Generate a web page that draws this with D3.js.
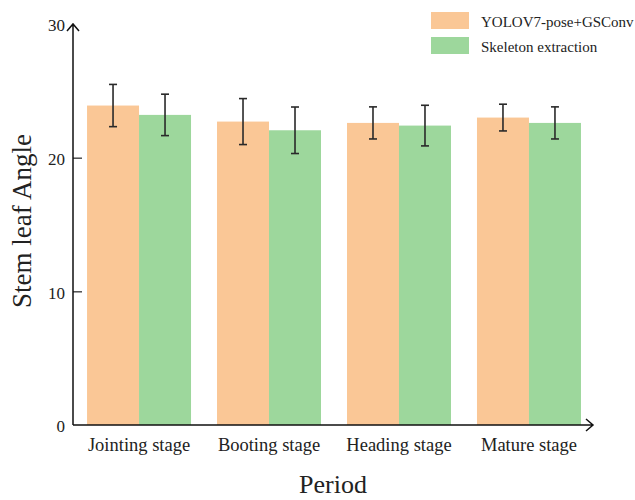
<!DOCTYPE html>
<html>
<head>
<meta charset="utf-8">
<script src="https://cdn.jsdelivr.net/npm/d3@7"></script>
<style>
body{margin:0;background:#fff}
text{font-family:"Liberation Serif","Times New Roman",serif;fill:#222}
</style>
</head>
<body>
<svg id="chart"></svg>
<script>
// data
var periods=["Jointing stage","Booting stage","Heading stage","Mature stage"]
var seriesNames=["YOLOV7-pose+GSConv","Skeleton extraction"]
var yoloValues=[23.9,22.7,22.6,23.0]
var yoloErrors=[1.58,1.72,1.2,1.0]
var skelValues=[23.2,22.05,22.4,22.6]
var skelErrors=[1.55,1.74,1.52,1.2]
var yTicks=[0,10,20,30]
var colors=["#fac796","#9dd79c"]

var screen={width:635,height:500}
var svg=d3.select("#chart")
.attr("width",screen.width)
.attr("height",screen.height)

var xScale=d3.scaleBand()
.domain(periods)
.range([73,595])
.paddingInner(0.2)
.paddingOuter(0.108)

var inner=d3.scaleBand()
.domain(seriesNames)
.range([0,xScale.bandwidth()])

var yScale=d3.scaleLinear()
.domain([0,30])
.range([425,24])

var rows=[]
periods.forEach(function(p,i){
  rows.push({period:p,series:seriesNames[0],value:yoloValues[i],err:yoloErrors[i],color:colors[0]})
  rows.push({period:p,series:seriesNames[1],value:skelValues[i],err:skelErrors[i],color:colors[1]})
})

// bars
svg.append("g")
.selectAll("rect")
.data(rows)
.enter()
.append("rect")
.attr("x",function(d){return xScale(d.period)+inner(d.series)})
.attr("y",function(d){return yScale(d.value)})
.attr("width",inner.bandwidth())
.attr("height",function(d){return yScale(0)-yScale(d.value)})
.attr("fill",function(d){return d.color})

// error bars
var errs=svg.append("g")
.attr("stroke","#2a2a2a")
.attr("stroke-width",1.6)
.selectAll("g")
.data(rows)
.enter()
.append("g")
.attr("transform",function(d){return "translate("+(xScale(d.period)+inner(d.series)+inner.bandwidth()/2)+",0)"})
errs.append("line")
.attr("y1",function(d){return yScale(d.value+d.err)})
.attr("y2",function(d){return yScale(d.value-d.err)})
errs.append("line")
.attr("x1",-4).attr("x2",4)
.attr("y1",function(d){return yScale(d.value+d.err)})
.attr("y2",function(d){return yScale(d.value+d.err)})
errs.append("line")
.attr("x1",-4).attr("x2",4)
.attr("y1",function(d){return yScale(d.value-d.err)})
.attr("y2",function(d){return yScale(d.value-d.err)})

// y axis
var yAxis=d3.axisLeft(yScale)
.tickValues(yTicks)
.tickSizeInner(-9)
.tickSizeOuter(0)
.tickPadding(8)
var yg=svg.append("g")
.attr("transform","translate(73,0)")
.call(yAxis)
yg.select(".domain").remove()
yg.selectAll(".tick line")
.attr("stroke","#222")
.attr("stroke-width",1.2)
.filter(function(d){return d==0||d==30}).remove()
yg.selectAll(".tick text")
.attr("font-size",17)
.attr("font-family","Liberation Serif, Times New Roman, serif")
.attr("fill","#222")
.attr("dy","0.4em")

// x axis
var xAxis=d3.axisBottom(xScale).tickSize(0).tickPadding(13)
var xg=svg.append("g")
.attr("transform","translate(0,425)")
.call(xAxis)
xg.select(".domain").remove()
xg.selectAll(".tick text")
.attr("font-size",18.5)
.attr("font-family","Liberation Serif, Times New Roman, serif")
.attr("fill","#222")

// axis lines with open arrows
var axes=svg.append("g")
.attr("fill","none")
.attr("stroke","#111")
.attr("stroke-width",1.5)
axes.append("path")
.attr("d","M73,"+yScale(0)+"V"+yScale(30)+"M67,"+(yScale(30)+7)+"L73,"+yScale(30)+"L79,"+(yScale(30)+7))
axes.append("path")
.attr("d","M73,"+yScale(0)+"H593M586,"+(yScale(0)-6)+"L593,"+yScale(0)+"L586,"+(yScale(0)+6))

// labels
svg.append("text")
.text("Period")
.attr("text-anchor","middle")
.attr("font-size",26)
.attr("x",333)
.attr("y",493)

svg.append("g")
.attr("transform","translate(31,221)")
.append("text")
.text("Stem leaf Angle")
.attr("text-anchor","middle")
.attr("font-size",27)
.attr("transform","rotate(-90)")

// legend
var legend=svg.append("g")
.selectAll("g")
.data(seriesNames)
.enter()
.append("g")
.attr("transform",function(d,i){return "translate(431,"+(12+i*25)+")"})
legend.append("rect")
.attr("width",38)
.attr("height",17)
.attr("fill",function(d,i){return colors[i]})
legend.append("text")
.text(function(d){return d})
.attr("x",50)
.attr("y",14.5)
.attr("font-size",15)
</script>
</body>
</html>
